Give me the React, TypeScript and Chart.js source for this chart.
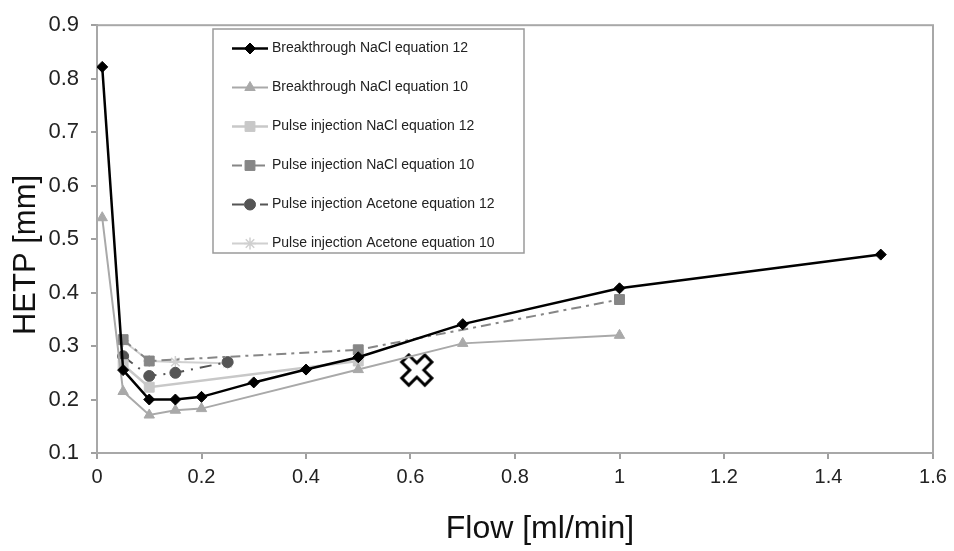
import React, { useEffect, useRef } from 'react';
import { Chart, registerables } from 'chart.js';
import { drawPoint } from 'chart.js/helpers';

Chart.register(...registerables);

// Breakthrough NaCl equation 12
const flowBtEq12 = [0.01, 0.05, 0.1, 0.15, 0.2, 0.3, 0.4, 0.5, 0.7, 1.0, 1.5];
const hetpBtEq12 = [0.822, 0.255, 0.2, 0.2, 0.205, 0.232, 0.256, 0.279, 0.341, 0.408, 0.471];
// Breakthrough NaCl equation 10
const flowBtEq10 = [0.01, 0.05, 0.1, 0.15, 0.2, 0.5, 0.7, 1.0];
const hetpBtEq10 = [0.54, 0.215, 0.171, 0.18, 0.183, 0.256, 0.305, 0.32];
// Pulse injection NaCl equation 12
const flowPiNaclEq12 = [0.05, 0.1, 0.5];
const hetpPiNaclEq12 = [0.265, 0.223, 0.272];
// Pulse injection NaCl equation 10
const flowPiNaclEq10 = [0.05, 0.1, 0.5, 1.0];
const hetpPiNaclEq10 = [0.312, 0.272, 0.293, 0.387];
// Pulse injection Acetone equation 12
const flowPiAcEq12 = [0.05, 0.1, 0.15, 0.25];
const hetpPiAcEq12 = [0.281, 0.244, 0.25, 0.27];
// Pulse injection Acetone equation 10
const flowPiAcEq10 = [0.05, 0.1, 0.15, 0.25];
const hetpPiAcEq10 = [0.31, 0.272, 0.27, 0.268];
// Cross marker
const flowCross = [0.612];
const hetpCross = [0.255];

const seriesLabels = [
  'Breakthrough NaCl equation 12',
  'Breakthrough NaCl equation 10',
  'Pulse injection NaCl equation 12',
  'Pulse injection NaCl equation 10',
  'Pulse injection Acetone equation 12',
  'Pulse injection Acetone equation 10',
];

const xTitle = 'Flow [ml/min]';
const yTitle = 'HETP [mm]';
const FONT = '"Liberation Sans", Arial, sans-serif';

const pts = (xs: number[], ys: number[]) => xs.map((x, i) => ({ x, y: ys[i] }));

export default function App() {
  const ref = useRef<HTMLCanvasElement>(null);

  useEffect(() => {
    if (!ref.current) return;

    const cross = document.createElement('canvas');
    cross.width = 40;
    cross.height = 40;
    const c = cross.getContext('2d')!;
    c.lineCap = 'square';
    const drawX = (w: number, color: string) => {
      c.strokeStyle = color;
      c.lineWidth = w;
      c.beginPath();
      c.moveTo(12, 12);
      c.lineTo(28, 28);
      c.moveTo(28, 12);
      c.lineTo(12, 28);
      c.stroke();
    };
    drawX(13, '#000');
    drawX(7, '#fff');

    const framePlugin = {
      id: 'frame',
      beforeDatasetsDraw(chart: any) {
        const { ctx, chartArea: a } = chart;
        ctx.save();
        ctx.strokeStyle = '#a8a8a8';
        ctx.lineWidth = 2;
        ctx.strokeRect(a.left, a.top, a.right - a.left, a.bottom - a.top);
        ctx.restore();
      },
    };

    const legendPlugin = {
      id: 'boxLegend',
      afterDraw(chart: any) {
        const ctx = chart.ctx;
        ctx.save();
        ctx.fillStyle = '#fff';
        ctx.fillRect(213, 29, 311, 224);
        ctx.strokeStyle = '#9a9a9a';
        ctx.lineWidth = 1.5;
        ctx.strokeRect(213, 29, 311, 224);
        for (let i = 0; i < 6; i++) {
          const ds: any = chart.data.datasets[i];
          const y = 48.5 + i * 39;
          ctx.save();
          ctx.strokeStyle = ds.borderColor;
          ctx.lineWidth = ds.borderWidth;
          ctx.setLineDash(ds.borderDash || []);
          ctx.beginPath();
          ctx.moveTo(232, y);
          ctx.lineTo(268, y);
          ctx.stroke();
          ctx.setLineDash([]);
          ctx.fillStyle = ds.pointBackgroundColor;
          ctx.strokeStyle = ds.pointBorderColor;
          ctx.lineWidth = ds.pointBorderWidth;
          drawPoint(ctx, {
            pointStyle: ds.pointStyle,
            radius: ds.pointRadius,
            rotation: 0,
            borderWidth: ds.pointBorderWidth,
          } as any, 250, y);
          ctx.restore();
          ctx.fillStyle = '#222';
          ctx.font = `14px ${FONT}`;
          ctx.textBaseline = 'middle';
          ctx.textAlign = 'left';
          ctx.fillText(seriesLabels[i], 272, y);
        }
        // axis titles
        ctx.fillStyle = '#111';
        ctx.font = `32px ${FONT}`;
        ctx.textAlign = 'center';
        ctx.textBaseline = 'alphabetic';
        ctx.fillText(xTitle, 540, 538);
        ctx.font = `31px ${FONT}`;
        ctx.save();
        ctx.translate(35, 255);
        ctx.rotate(-Math.PI / 2);
        ctx.fillText(yTitle, 0, 0);
        ctx.restore();
        ctx.restore();
      },
    };

    const mk = (
      label: string,
      data: any[],
      color: string,
      width: number,
      style: any,
      radius: number,
      dash: number[] = [],
      bw = 1
    ) => ({
      label,
      data,
      borderColor: color,
      backgroundColor: color,
      borderWidth: width,
      borderDash: dash,
      pointStyle: style,
      pointRadius: radius,
      pointHoverRadius: radius,
      pointBackgroundColor: color,
      pointBorderColor: color,
      pointBorderWidth: bw,
      tension: 0,
      fill: false,
    });

    const chart = new Chart(ref.current, {
      type: 'line',
      data: {
        datasets: [
          mk(seriesLabels[0], pts(flowBtEq12, hetpBtEq12), '#000000', 2.5, 'rectRot', 5.5),
          mk(seriesLabels[1], pts(flowBtEq10, hetpBtEq10), '#a9a9a9', 2, 'triangle', 6),
          mk(seriesLabels[2], pts(flowPiNaclEq12, hetpPiNaclEq12), '#c8c8c8', 2.5, 'rect', 7),
          mk(seriesLabels[3], pts(flowPiNaclEq10, hetpPiNaclEq10), '#868686', 2, 'rect', 7, [10, 5, 3, 5]),
          mk(seriesLabels[4], pts(flowPiAcEq12, hetpPiAcEq12), '#555555', 2, 'circle', 5.5, [12, 7, 2, 7]),
          mk(seriesLabels[5], pts(flowPiAcEq10, hetpPiAcEq10), '#d0d0d0', 2, 'star', 6, [], 1.5),
          {
            label: 'cross',
            data: pts(flowCross, hetpCross),
            showLine: false,
            pointStyle: cross as any,
            pointRadius: 20,
            borderColor: '#000',
            backgroundColor: '#000',
          } as any,
        ],
      },
      options: {
        responsive: false,
        animation: false,
        events: [],
        layout: { padding: { top: 16, right: 18, left: 0, bottom: 0 } },
        plugins: {
          legend: { display: false },
          tooltip: { enabled: false },
          title: { display: false },
        },
        scales: {
          x: {
            type: 'linear',
            min: 0,
            max: 1.6,
            afterFit: (s: any) => {
              s.height = 98;
            },
            ticks: {
              stepSize: 0.2,
              color: '#222',
              font: { size: 20, family: FONT },
              padding: 6,
              maxRotation: 0,
              callback: (v: any) => String(Number(Number(v).toFixed(1))),
            },
            grid: {
              display: true,
              drawOnChartArea: false,
              drawTicks: true,
              tickLength: 6,
              color: '#a0a0a0',
              lineWidth: 2,
            },
            border: { display: true, color: '#a0a0a0', width: 2 },
          },
          y: {
            type: 'linear',
            min: 0.1,
            max: 0.9,
            afterFit: (s: any) => {
              s.width = 97;
            },
            ticks: {
              stepSize: 0.1,
              color: '#222',
              font: { size: 22, family: FONT },
              padding: 12,
              callback: (v: any) => String(Number(Number(v).toFixed(1))),
            },
            grid: {
              display: true,
              drawOnChartArea: false,
              drawTicks: true,
              tickLength: 6,
              color: '#a0a0a0',
              lineWidth: 2,
            },
            border: { display: true, color: '#a0a0a0', width: 2 },
          },
        },
      },
      plugins: [framePlugin, legendPlugin],
    });

    return () => chart.destroy();
  }, []);

  return (
    <div style={{ position: 'absolute', left: 0, top: 0, width: 954, height: 551, background: '#fff' }}>
      <canvas ref={ref} width={954} height={551} style={{ display: 'block' }} />
    </div>
  );
}
